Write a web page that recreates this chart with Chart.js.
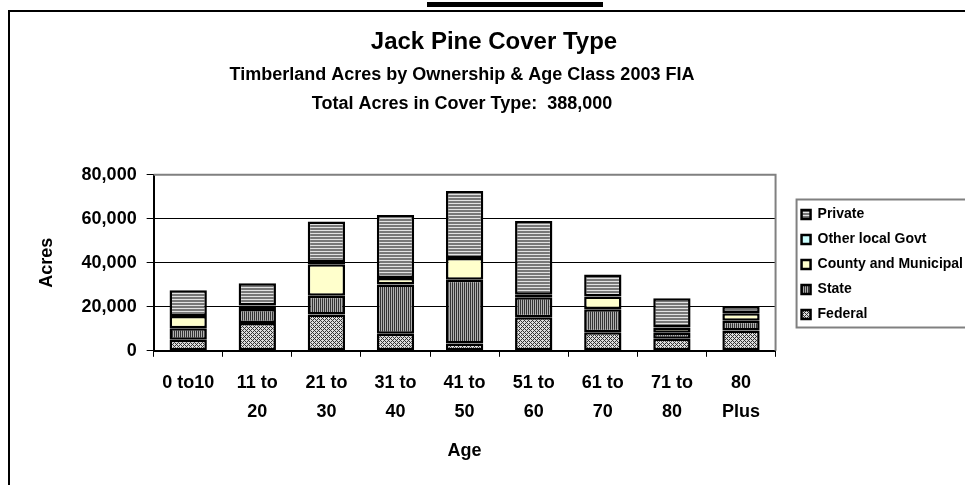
<!DOCTYPE html>
<html>
<head>
  <title>Jack Pine Cover Type</title>
  <script src="https://cdn.jsdelivr.net/npm/chart.js"></script>
  <style>
    body { margin: 0; background: #fff; }
  </style>
</head>
<body>
  <canvas id="jackPineChart" width="965" height="485"></canvas>

  <script>
    // Age classes (x axis)
    const ageClasses = ['0 to10', ['11 to', '20'], ['21 to', '30'], ['31 to', '40'], ['41 to', '50'],
                        ['51 to', '60'], ['61 to', '70'], ['71 to', '80'], ['80', 'Plus']];

    // Acres by ownership
    const federal    = [5000, 12650, 16450, 7770, 3340, 15230, 8380, 5480, 9280];
    const state      = [5200, 6400, 8550, 22400, 28960, 9140, 10500, 2750, 4430];
    const county     = [5650, 1500, 14300, 2900, 9900, 1100, 5800, 2400, 3340];
    const otherLocal = [0, 0, 1000, 0, 0, 0, 0, 0, 0];
    const privateOwn = [11700, 10200, 18500, 28650, 30450, 33500, 10050, 13250, 3200];

    const yTicks = [0, 20000, 40000, 60000, 80000];

    // Small fill patterns like the old Excel hatches
    function makePattern(w, h, pixel) {
      const c = document.createElement('canvas');
      c.width = w;
      c.height = h;
      const g = c.getContext('2d');
      for (let x = 0; x < w; x++) {
        for (let y = 0; y < h; y++) {
          g.fillStyle = pixel(x, y);
          g.fillRect(x, y, 1, 1);
        }
      }
      return g.createPattern(c, 'repeat');
    }

    const federalFill = makePattern(4, 4, (x, y) =>
      ((x + y) % 4 === 0 || (x - y + 4) % 4 === 0) ? '#333' : '#dcdcdc');
    const stateFill = makePattern(2, 1, (x) => x === 0 ? '#333' : '#b0b0b0');
    const privateFill = makePattern(1, 3, (x, y) => y === 2 ? '#e2e2e2' : '#777');

    // Plot frame, legend box, outer frame and the black bar at the top
    const framePlugin = {
      id: 'frames',
      afterLayout(chart) {
        // the original legend sits a bit right and lower
        const lg = chart.legend;
        lg.left += 15;
        lg.right += 15;
        lg.top += 27;
        lg.bottom += 27;
        // title lines are not quite centred on the same x in the original
        chart.boxes.forEach(b => {
          if (b === chart.titleBlock) {
            b.left += 10;
            b.right += 10;
          } else if (b.options && Array.isArray(b.options.text)) {
            b.left -= 22;
            b.right -= 22;
          }
        });
      },
      beforeDatasetsDraw(chart) {
        const { ctx, chartArea: a } = chart;
        ctx.save();
        ctx.strokeStyle = '#808080';
        ctx.lineWidth = 2;
        ctx.beginPath();
        ctx.moveTo(a.left, a.top);
        ctx.lineTo(a.right, a.top);
        ctx.lineTo(a.right, a.bottom);
        ctx.stroke();
        ctx.restore();
      },
      afterDraw(chart) {
        const ctx = chart.ctx;
        ctx.save();
        const boxes = chart.legend.legendHitBoxes;
        if (boxes && boxes.length) {
          const last = boxes[boxes.length - 1];
          const top = boxes[0].top - 8;
          const bottom = last.top + last.height + 6;
          ctx.strokeStyle = '#808080';
          ctx.lineWidth = 2;
          ctx.strokeRect(boxes[0].left - 5, top, 200, bottom - top);
        }
        ctx.strokeStyle = '#000';
        ctx.lineWidth = 2;
        ctx.beginPath();
        ctx.moveTo(9, 485);
        ctx.lineTo(9, 11);
        ctx.lineTo(965, 11);
        ctx.stroke();
        ctx.fillStyle = '#000';
        ctx.fillRect(427, 2, 176, 5);
        ctx.restore();
      }
    };

    Chart.defaults.font.family = '"Liberation Sans", Arial, sans-serif';
    Chart.defaults.color = '#000';

    const ctx = document.getElementById('jackPineChart');
    new Chart(ctx, {
      type: 'bar',
      data: {
        labels: ageClasses,
        datasets: [
          { label: 'Federal', data: federal, backgroundColor: federalFill },
          { label: 'State', data: state, backgroundColor: stateFill },
          { label: 'County and Municipal', data: county, backgroundColor: '#ffffcc' },
          { label: 'Other local Govt', data: otherLocal, backgroundColor: '#ccffff' },
          { label: 'Private', data: privateOwn, backgroundColor: privateFill }
        ].map(d => Object.assign(d, {
          borderColor: '#000',
          borderWidth: 2.5,
          borderSkipped: false,
          barPercentage: 0.9,
          categoryPercentage: 0.6
        }))
      },
      options: {
        responsive: false,
        animation: false,
        devicePixelRatio: 1,
        layout: { padding: { left: 10, right: 7, top: 0, bottom: 10 } },
        plugins: {
          title: {
            display: true,
            text: 'Jack Pine Cover Type',
            font: { size: 24, weight: 'bold' },
            padding: { top: 28, bottom: 0 }
          },
          subtitle: {
            display: true,
            text: ['Timberland Acres by Ownership & Age Class 2003 FIA', 'Total Acres in Cover Type:  388,000'],
            font: { size: 18, weight: 'bold', lineHeight: '29px' },
            padding: { top: 4, bottom: 56 }
          },
          legend: {
            position: 'right',
            reverse: true,
            labels: {
              boxWidth: 9,
              boxHeight: 9,
              padding: 11,
              font: { size: 14, weight: 'bold' }
            }
          },
          tooltip: { enabled: false }
        },
        scales: {
          x: {
            stacked: true,
            grid: { drawOnChartArea: false, color: '#000', tickLength: 6 },
            border: { color: '#000', width: 2 },
            ticks: {
              maxRotation: 0,
              autoSkip: false,
              padding: 12,
              font: { size: 18, weight: 'bold', lineHeight: 1.6 }
            },
            title: {
              display: true,
              text: 'Age',
              font: { size: 18, weight: 'bold' },
              padding: { top: 2, bottom: 13 }
            }
          },
          y: {
            stacked: true,
            min: 0,
            max: 80000,
            afterBuildTicks(axis) {
              axis.ticks = yTicks.map(v => ({ value: v }));
            },
            grid: { color: '#000', tickLength: 7 },
            border: { color: '#000', width: 2 },
            ticks: {
              padding: 10,
              font: { size: 18, weight: 'bold' },
              callback: v => v.toLocaleString('en-US')
            },
            title: {
              display: true,
              text: 'Acres',
              font: { size: 18, weight: 'bold' },
              padding: { top: 26, bottom: 14 }
            }
          }
        }
      },
      plugins: [framePlugin]
    });
  </script>
</body>
</html>
